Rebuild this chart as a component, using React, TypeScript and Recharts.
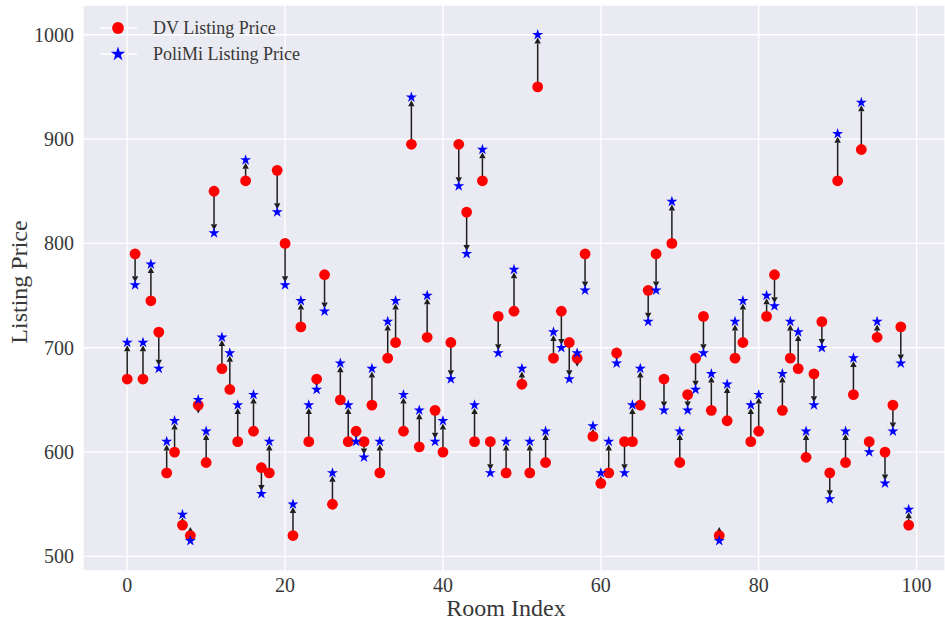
import React from 'react';
import {
    ScatterChart,
    Scatter,
    XAxis,
    YAxis,
    CartesianGrid,
    ReferenceLine,
    Legend,
} from 'recharts';

const FONT = '"Liberation Serif", "DejaVu Serif", serif';
const TEXT = '#383838';

// room index 0..99 (x categories)
const roomIndex = Array.from({ length: 100 }, (_, i) => i);

const dvPrice = [
    670, 790, 670, 745, 715, 580, 600, 530, 520, 645,
    590, 850, 680, 660, 610, 860, 620, 585, 580, 870,
    800, 520, 720, 610, 670, 770, 550, 650, 610, 620,
    610, 645, 580, 690, 705, 620, 895, 605, 710, 640,
    600, 705, 895, 830, 610, 860, 610, 730, 580, 735,
    665, 580, 950, 590, 690, 735, 705, 690, 790, 615,
    570, 580, 695, 610, 610, 645, 755, 790, 670, 800,
    590, 655, 690, 730, 640, 520, 630, 690, 705, 610,
    620, 730, 770, 640, 690, 680, 595, 675, 725, 580,
    860, 590, 655, 890, 610, 710, 600, 645, 720, 530,
];

const polimiPrice = [
    705, 760, 705, 780, 680, 610, 630, 540, 515, 650,
    620, 810, 710, 695, 645, 880, 655, 560, 610, 830,
    760, 550, 745, 645, 660, 735, 580, 685, 645, 610,
    595, 680, 610, 725, 745, 655, 940, 640, 750, 610,
    630, 670, 855, 790, 645, 890, 580, 695, 610, 775,
    680, 610, 1000, 620, 715, 700, 670, 695, 755, 625,
    580, 610, 685, 580, 645, 680, 725, 755, 640, 840,
    620, 640, 660, 695, 675, 515, 665, 725, 745, 645,
    655, 750, 740, 675, 725, 715, 620, 645, 700, 555,
    905, 620, 690, 935, 600, 725, 570, 620, 685, 545,
];

const xTicks = [0, 20, 40, 60, 80, 100];
const yTicks = [500, 600, 700, 800, 900, 1000];

const dvData = roomIndex.map((i) => ({ x: i, y: dvPrice[i] }));
const polimiData = roomIndex.map((i) => ({ x: i, y: polimiPrice[i] }));

const starPoints = (cx: number, cy: number, R: number) => {
    const r = R * 0.382;
    const pts: string[] = [];
    for (let k = 0; k < 10; k++) {
        const a = ((-90 + k * 36) * Math.PI) / 180;
        const rad = k % 2 === 0 ? R : r;
        pts.push(`${cx + rad * Math.cos(a)},${cy + rad * Math.sin(a)}`);
    }
    return pts.join(' ');
};

const Circle = (props: any) => <circle cx={props.cx} cy={props.cy} r={5.4} fill="#ff0000" />;

const Star = (props: any) => <polygon points={starPoints(props.cx, props.cy, 5.8)} fill="#0000ff" />;

// arrow from DV (x1,y1) to PoliMi (x2,y2), shrunk a bit at both ends like matplotlib
const Arrow = (props: any) => {
    const { x1, y1, y2 } = props;
    const dir = y2 < y1 ? -1 : 1;
    const len = Math.abs(y2 - y1);
    const s = 2.8;
    const hl = 6;
    const hw = 3.2;
    const col = '#1e1e1e';
    if (len < 2 * s + 1) {
        // too short: matplotlib flips the head
        const tip = y1 - dir * 8.5;
        const base = tip + dir * hl;
        return (
            <g>
                <line x1={x1} x2={x1} y1={y1} y2={base} stroke={col} strokeWidth={1.5} />
                <polygon points={`${x1},${tip} ${x1 - hw},${base} ${x1 + hw},${base}`} fill={col} />
            </g>
        );
    }
    const start = y1 + dir * s;
    const tip = y2 - dir * s;
    const base = tip - dir * hl;
    return (
        <g>
            <line x1={x1} x2={x1} y1={start} y2={base} stroke={col} strokeWidth={1.5} />
            <polygon points={`${x1},${tip} ${x1 - hw},${base} ${x1 + hw},${base}`} fill={col} />
        </g>
    );
};

const renderLegend = () => (
    <svg width={320} height={70} style={{ display: 'block' }}>
        <line x1={100} x2={137} y1={28} y2={28} stroke="#ffffff" strokeWidth={1.5} />
        <circle cx={118} cy={28} r={5.9} fill="#ff0000" />
        <text x={153} y={34} fontFamily={FONT} fontSize={18} fill={TEXT}>
            DV Listing Price
        </text>
        <line x1={100} x2={137} y1={54} y2={54} stroke="#ffffff" strokeWidth={1.5} />
        <polygon points={starPoints(118, 54, 7.6)} fill="#0000ff" />
        <text x={153} y={60} fontFamily={FONT} fontSize={18} fill={TEXT}>
            PoliMi Listing Price
        </text>
    </svg>
);

export default function App() {
    return (
        <div style={{ position: 'absolute', left: 0, top: 0, background: '#fff' }}>
            <ScatterChart width={945} height={621} margin={{ top: 5, right: 0, bottom: 0, left: 0 }}>
                <CartesianGrid fill="#eaeaf2" stroke="#ffffff" strokeWidth={1.3} />
                <XAxis
                    type="number"
                    dataKey="x"
                    domain={[-5.6, 103.6]}
                    ticks={xTicks}
                    allowDataOverflow
                    axisLine={false}
                    tickLine={false}
                    tickSize={0}
                    tickMargin={7}
                    height={50}
                    tick={{ fontFamily: FONT, fontSize: 20, fill: TEXT }}
                    label={{
                        content: (p: any) => {
                            const vb = p.viewBox;
                            return (
                                <text
                                    x={vb.x + vb.width / 2 - 8}
                                    y={616}
                                    textAnchor="middle"
                                    fontFamily={FONT}
                                    fontSize={24}
                                    fill={TEXT}
                                >
                                    Room Index
                                </text>
                            );
                        },
                    }}
                />
                <YAxis
                    type="number"
                    dataKey="y"
                    domain={[486, 1028.5]}
                    ticks={yTicks}
                    allowDataOverflow
                    axisLine={false}
                    tickLine={false}
                    tickSize={0}
                    tickMargin={9}
                    width={83}
                    tick={{ fontFamily: FONT, fontSize: 20, fill: TEXT }}
                    label={{
                        content: (p: any) => {
                            const vb = p.viewBox;
                            const cx = 27;
                            const cy = vb.y + vb.height / 2 - 6;
                            return (
                                <text
                                    x={cx}
                                    y={cy}
                                    transform={`rotate(-90 ${cx} ${cy})`}
                                    textAnchor="middle"
                                    fontFamily={FONT}
                                    fontSize={24}
                                    fill={TEXT}
                                >
                                    Listing Price
                                </text>
                            );
                        },
                    }}
                />
                <Legend
                    layout="horizontal"
                    verticalAlign="middle"
                    align="center"
                    content={renderLegend}
                    wrapperStyle={{ left: 0, top: 0, width: 320, height: 70 }}
                />
                <Scatter name="DV Listing Price" data={dvData} shape={Circle} isAnimationActive={false} />
                <Scatter name="PoliMi Listing Price" data={polimiData} shape={Star} isAnimationActive={false} />
                {roomIndex.map((i) => (
                    <ReferenceLine
                        key={i}
                        segment={[
                            { x: i, y: dvPrice[i] },
                            { x: i, y: polimiPrice[i] },
                        ]}
                        shape={Arrow}
                    />
                ))}
            </ScatterChart>
        </div>
    );
}
